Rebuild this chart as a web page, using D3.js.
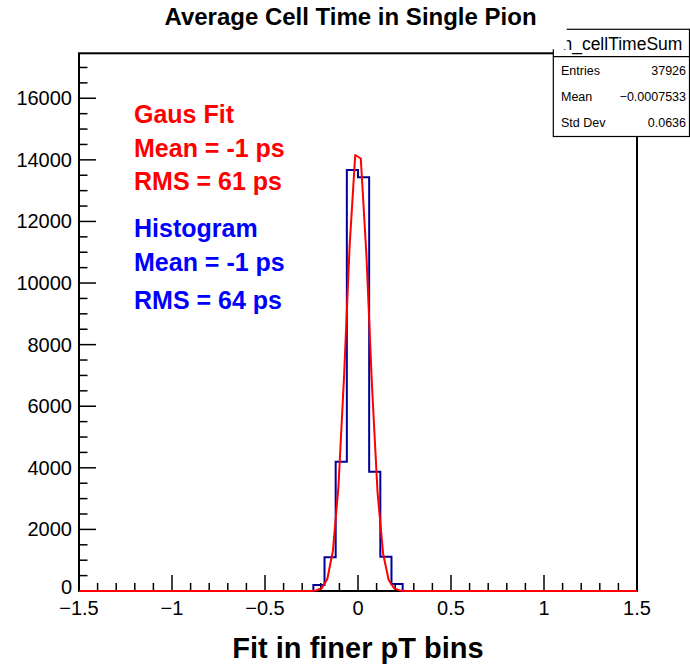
<!DOCTYPE html>
<html>
<head>
<meta charset="utf-8">
<script src="https://cdn.jsdelivr.net/npm/d3@7"></script>
<style>
  html, body { margin: 0; padding: 0; background: #ffffff; }
  svg { display: block; font-family: "Liberation Sans", Arial, Helvetica, sans-serif; }
</style>
</head>
<body>
<svg id="chart" width="690" height="664"></svg>
<script>
// Histogram h_cellTimeSum: 50 bins over [-1.5, 1.5] ns
const xRange = [-1.5, 1.5];
const binCounts = [
  0, 0, 0, 0, 0, 0, 0, 0, 0, 0,
  0, 0, 0, 0, 0, 0, 0, 0, 0, 0,
  0, 195, 1094, 4200, 13670, 13433, 3875, 1114, 227, 0,
  0, 0, 0, 0, 0, 0, 0, 0, 0, 0,
  0, 0, 0, 0, 0, 0, 0, 0, 0, 0
];

// Gaussian fit result (constant, mean [ns], sigma [ns]) and drawing resolution
const fitConstant = 14536;
const fitMean = -0.001;
const fitSigma = 0.061;
const fitNpx = 100;

// Axis ticks
const xMajorTicks = [-1.5, -1, -0.5, 0, 0.5, 1, 1.5];
const xTickLabels = ["\u22121.5", "\u22121", "\u22120.5", "0", "0.5", "1", "1.5"];
const yMajorTicks = [0, 2000, 4000, 6000, 8000, 10000, 12000, 14000, 16000];
const yTickLabels = ["0", "2000", "4000", "6000", "8000", "10000", "12000", "14000", "16000"];
const yMax = 17460;

// Texts
const chartTitle = "Average Cell Time in Single Pion";
const xAxisTitle = "Fit in finer pT bins";
const fitLabels = ["Gaus Fit", "Mean = -1 ps", "RMS = 61 ps"];
const histLabels = ["Histogram", "Mean = -1 ps", "RMS = 64 ps"];
const statsName = "h_cellTimeSum";
const statsRows = [["Entries", "37926"], ["Mean", "\u22120.0007533"], ["Std Dev", "0.0636"]];

// ---- layout ----
const frame = { left: 79, right: 637, top: 53.3, bottom: 591 };
const svg = d3.select("#chart");

const x = d3.scaleLinear().domain(xRange).range([frame.left, frame.right]);
const y = d3.scaleLinear().domain([0, yMax]).range([frame.bottom, frame.top]);

const nBins = binCounts.length;
const binWidth = (xRange[1] - xRange[0]) / nBins;

// frame
svg.append("rect")
  .attr("x", frame.left).attr("y", frame.top)
  .attr("width", frame.right - frame.left).attr("height", frame.bottom - frame.top)
  .attr("fill", "none").attr("stroke", "#000").attr("stroke-width", 2);

// x axis ticks (inward, upward)
const xMinor = d3.range(0, 31).map(i => xRange[0] + i * 0.1);
const xg = svg.append("g").attr("stroke", "#000").attr("stroke-width", 1.5);
xMinor.forEach(v => {
  const isMajor = xMajorTicks.some(m => Math.abs(m - v) < 1e-6);
  xg.append("line")
    .attr("x1", x(v)).attr("x2", x(v))
    .attr("y1", frame.bottom).attr("y2", frame.bottom - (isMajor ? 16 : 8));
});
svg.append("g").selectAll("text").data(xMajorTicks).join("text")
  .attr("x", d => x(d)).attr("y", 615)
  .attr("text-anchor", "middle")
  .attr("font-size", 20)
  .text((d, i) => xTickLabels[i]);

// y axis ticks (inward, to the right)
const yMinor = d3.range(0, 35).map(i => i * 500).filter(v => v <= yMax);
const yg = svg.append("g").attr("stroke", "#000").attr("stroke-width", 1.5);
yMinor.forEach(v => {
  const isMajor = v % 2000 === 0;
  yg.append("line")
    .attr("x1", frame.left).attr("x2", frame.left + (isMajor ? 17 : 8.5))
    .attr("y1", y(v)).attr("y2", y(v));
});
// the label at zero sits a little higher so it clears the first x label
svg.append("g").selectAll("text").data(yMajorTicks).join("text")
  .attr("x", 72).attr("y", d => y(d) + (d === 0 ? 3 : 7))
  .attr("text-anchor", "end")
  .attr("font-size", 20)
  .text((d, i) => yTickLabels[i]);

// histogram outline
const histPts = binCounts.map((c, i) => [xRange[0] + i * binWidth, c]);
histPts.push([xRange[1], binCounts[nBins - 1]]);
svg.append("path")
  .attr("d", d3.line().x(d => x(d[0])).y(d => y(d[1])).curve(d3.curveStepAfter)(histPts))
  .attr("fill", "none").attr("stroke", "#000099").attr("stroke-width", 2);

// gaussian fit curve
const step = (xRange[1] - xRange[0]) / fitNpx;
const fitPts = d3.range(fitNpx).map(i => {
  const xv = xRange[0] + (i + 0.5) * step;
  const z = (xv - fitMean) / fitSigma;
  return [xv, fitConstant * Math.exp(-0.5 * z * z)];
});
fitPts.unshift([xRange[0], fitPts[0][1]]);
fitPts.push([xRange[1], fitPts[fitPts.length - 1][1]]);
svg.append("path")
  .attr("d", d3.line().x(d => x(d[0])).y(d => y(d[1]))(fitPts))
  .attr("fill", "none").attr("stroke", "#ff0000").attr("stroke-width", 2)
  .attr("stroke-linejoin", "round");

// annotation text
const fitY = [123, 157, 190];
svg.append("g").selectAll("text").data(fitLabels).join("text")
  .attr("x", 134).attr("y", (d, i) => fitY[i])
  .attr("font-size", 25).attr("font-weight", "bold").attr("fill", "#ff0000")
  .text(d => d);
const histY = [237, 271, 309];
svg.append("g").selectAll("text").data(histLabels).join("text")
  .attr("x", 134).attr("y", (d, i) => histY[i])
  .attr("font-size", 25).attr("font-weight", "bold").attr("fill", "#0000ff")
  .text(d => d);

// statistics box
const stats = { left: 553.3, right: 689.5, top: 29.3, sep: 56.7, bottom: 136.5 };
svg.append("rect")
  .attr("x", stats.left).attr("y", stats.top)
  .attr("width", stats.right - stats.left).attr("height", stats.bottom - stats.top)
  .attr("fill", "#ffffff").attr("stroke", "#000").attr("stroke-width", 1.2);
svg.append("line")
  .attr("x1", stats.left).attr("x2", stats.right)
  .attr("y1", stats.sep).attr("y2", stats.sep)
  .attr("stroke", "#000").attr("stroke-width", 1.2);
svg.append("text")
  .attr("x", (stats.left + stats.right) / 2 + 1).attr("y", 49.5)
  .attr("text-anchor", "middle").attr("font-size", 17.5)
  .text(statsName);
const rowY = [75, 101, 127];
statsRows.forEach((r, i) => {
  svg.append("text").attr("x", 561).attr("y", rowY[i])
    .attr("font-size", 12.5).text(r[0]);
  svg.append("text").attr("x", 686).attr("y", rowY[i])
    .attr("text-anchor", "end").attr("font-size", 12.5).text(r[1]);
});

// title pave (drawn last, over the corner of the statistics box)
svg.append("rect")
  .attr("x", 130).attr("y", 0)
  .attr("width", 566.7 - 130).attr("height", 49.3)
  .attr("fill", "#ffffff");
svg.append("text")
  .attr("x", 350.5).attr("y", 25)
  .attr("text-anchor", "middle")
  .attr("font-size", 24).attr("font-weight", "bold")
  .text(chartTitle);

// x axis title
svg.append("text")
  .attr("x", 358).attr("y", 658)
  .attr("text-anchor", "middle")
  .attr("font-size", 29).attr("font-weight", "bold")
  .text(xAxisTitle);
</script>
</body>
</html>
